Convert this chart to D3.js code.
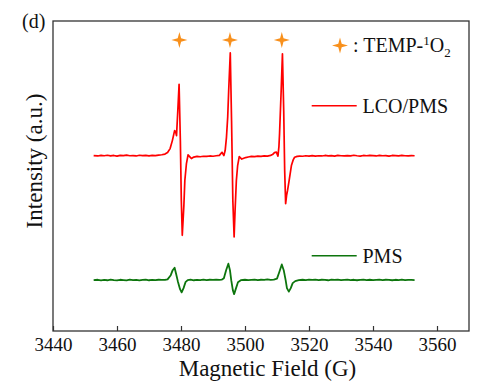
<!DOCTYPE html>
<html>
<head>
<meta charset="utf-8">
<script src="https://cdn.jsdelivr.net/npm/d3@7"></script>
<style>
  html, body { margin: 0; padding: 0; background: #fff; }
  svg { display: block; }
  svg text { font-family: "Liberation Serif", "Times New Roman", serif; }
</style>
</head>
<body>
<svg id="chart" width="487" height="390"></svg>
<script>
// ---- data ----
const xTicks = [3440, 3460, 3480, 3500, 3520, 3540, 3560];

const fieldLCO = [
  3452.7, 3454, 3455, 3456, 3457, 3458, 3459, 3460, 3461, 3462, 3463, 3464, 3465, 3466, 3467, 3468,
  3469, 3470, 3471, 3472, 3473, 3474, 3475, 3475.8, 3476.6, 3477.3, 3478.0, 3478.3, 3478.6, 3479.0,
  3479.4, 3479.8, 3480.1, 3480.4, 3480.9, 3481.2, 3481.7, 3482.2, 3482.7, 3483.25, 3484, 3485, 3486,
  3487, 3488, 3489, 3490, 3491, 3492, 3492.8, 3493.4, 3493.8, 3494.2, 3494.6, 3494.9, 3495.4, 3495.8,
  3496.2, 3496.6, 3496.9, 3497.3, 3497.7, 3498.2, 3499.0, 3500.2, 3501, 3502, 3503, 3504, 3505, 3506,
  3507, 3508, 3508.6, 3509.2, 3509.8, 3510.3, 3510.6, 3510.8, 3511.3, 3511.7, 3512.1, 3512.4, 3512.7,
  3513.0, 3513.3, 3513.8, 3514.5, 3515.1, 3515.5, 3516.3, 3517.1, 3518, 3519, 3520, 3521, 3522, 3523,
  3524, 3525, 3526, 3527, 3528, 3529, 3530, 3531, 3532, 3533, 3534, 3535, 3536, 3537, 3538, 3539,
  3540, 3541, 3542, 3543, 3544, 3545, 3546, 3547, 3548, 3549, 3550, 3551, 3552, 3553
];
const intensityLCO = [
  176, 175.6, 176.2, 175.8, 176.3, 175.7, 176.1, 175.5, 176.2, 175.9, 176.4, 175.8, 176, 175.6, 176.3, 175.9,
  176.2, 175.7, 176.1, 175.9, 176.4, 176.8, 177.5, 179, 183, 191, 201, 200, 196, 221,
  247.5, 191, 131, 96, 126, 151, 168, 176.7, 175, 173, 174.5, 175.2, 174.8,
  175.3, 175.1, 175.6, 175.3, 175.8, 176.2, 179.3, 176, 181, 194, 215, 241, 279, 211,
  131, 94.3, 121, 151, 166, 175, 172.5, 174, 174.6, 175.2, 175, 175.5, 175.2, 175.7,
  175.4, 176.2, 177, 179, 179.5, 175.5, 185, 198, 241, 278, 221, 161, 127.7,
  136, 141, 151, 166, 172, 174.3, 175.2, 175.5, 175.3, 175.8, 175.5, 175.9, 175.4, 175.8,
  175.6, 176.1, 175.7, 175.9, 175.5, 176.2, 175.8, 175.6, 176, 175.7, 176.3, 175.8, 175.5, 176.1, 175.8, 176.2,
  175.9, 175.6, 176.2, 175.8, 176, 175.5, 176.1, 175.9, 175.7, 176.2, 175.8, 175.6, 176, 175.8
];

const fieldPMS = [
  3452.7, 3454, 3455, 3456, 3457, 3458, 3459, 3460, 3461, 3462, 3463, 3464, 3465, 3466, 3467, 3468,
  3469, 3470, 3471, 3472, 3473, 3474, 3475, 3475.8, 3476.8, 3477.4, 3478.0, 3478.5, 3479.0, 3479.7,
  3480.2, 3480.8, 3481.4, 3482.1, 3483, 3484, 3485, 3486, 3487, 3488, 3489, 3490, 3491, 3492, 3492.7,
  3493.4, 3494.1, 3494.8, 3495.3, 3495.7, 3496.2, 3496.6, 3497.1, 3497.8, 3498.7, 3500, 3501, 3502,
  3503, 3504, 3505, 3506, 3507, 3508, 3509, 3510.0, 3510.7, 3511.5, 3512.1, 3512.7, 3513.1, 3513.7,
  3514.3, 3514.9, 3515.7, 3516.8, 3518, 3519, 3520, 3521, 3522, 3523, 3524, 3525, 3526, 3527, 3528,
  3529, 3530, 3531, 3532, 3533, 3534, 3535, 3536, 3537, 3538, 3539, 3540, 3541, 3542, 3543, 3544,
  3545, 3546, 3547, 3548, 3549, 3550, 3551, 3552, 3553
];
const intensityPMS = [
  51, 51.4, 50.8, 51.3, 50.9, 51.5, 51, 50.7, 51.4, 51.1, 50.8, 51.5, 51, 51.3, 50.8, 51.2,
  51.5, 50.9, 51.3, 51, 51.4, 51.2, 51.3, 51.8, 56, 61, 63.5, 57, 50, 42,
  38.7, 43, 49, 51, 51.5, 50.9, 51.3, 51.1, 51.6, 51, 51.4, 51.2, 51.6, 51.3, 51.5,
  53, 61, 67.5, 61, 51, 41, 37, 42, 49, 51, 51.4, 51, 51.3,
  51.6, 51.1, 51.4, 51.2, 51.7, 51.3, 51.5, 52.5, 59, 66.8, 61, 51, 43, 39.5,
  43, 48, 50, 51, 51.4, 51.1, 51.6, 51.2, 51.5, 51, 51.4, 51.3, 50.9, 51.5, 51.2,
  51.6, 51, 51.3, 51.5, 51.1, 51.4, 50.9, 51.3, 51.6, 51.1, 51.4, 51, 51.3, 51.5, 51.1, 51.4,
  51.2, 50.9, 51.4, 51.1, 51.5, 51, 51.3, 51.2, 51.1
];

const starFields = [3479.5, 3495.3, 3511.5];
const starLevel = 292;

const seriesNames = ["LCO/PMS", "PMS"];
const seriesColors = ["#ff0000", "#0d750d"];
const starColor = "#f8901c";

// ---- layout ----
const FONT = "'Liberation Serif', 'Times New Roman', serif";
const svg = d3.select("#chart");
const W = 487, H = 390;
const margin = { left: 53, right: 18, top: 21, bottom: 59 };
const plotW = W - margin.left - margin.right;
const plotH = H - margin.top - margin.bottom;

const x = d3.scaleLinear().domain([3440, 3570]).range([margin.left, margin.left + plotW]);
const y = d3.scaleLinear().domain([0, 311]).range([margin.top + plotH, margin.top]);

const line = d3.line().x(d => x(d[0])).y(d => y(d[1])).curve(d3.curveLinear);

const lco = fieldLCO.map((f, i) => [f, intensityLCO[i]]);
const pms = fieldPMS.map((f, i) => [f, intensityPMS[i]]);

svg.append("path").datum(pms)
  .attr("d", line).attr("fill", "none")
  .attr("stroke", seriesColors[1]).attr("stroke-width", 1.8).attr("stroke-linejoin", "round");
svg.append("path").datum(lco)
  .attr("d", line).attr("fill", "none")
  .attr("stroke", seriesColors[0]).attr("stroke-width", 1.7).attr("stroke-linejoin", "round");

// 4-point star marker
function star4(R, r) {
  const pts = [];
  for (let k = 0; k < 8; k++) {
    const a = -Math.PI / 2 + k * Math.PI / 4;
    const rad = k % 2 === 0 ? R : r;
    pts.push([rad * Math.cos(a), rad * Math.sin(a)]);
  }
  return "M" + pts.map(p => p[0].toFixed(2) + "," + p[1].toFixed(2)).join("L") + "Z";
}
svg.selectAll("path.star").data(starFields).enter().append("path")
  .attr("class", "star")
  .attr("d", star4(8, 2.4))
  .attr("transform", d => `translate(${x(d)},${y(starLevel)})`)
  .attr("fill", starColor);

// axis
const xAxis = d3.axisBottom(x).tickValues(xTicks).tickFormat(d3.format("d"))
  .tickSizeInner(-5).tickSizeOuter(0);
const gx = svg.append("g").attr("transform", `translate(0,${margin.top + plotH})`).call(xAxis);
gx.attr("font-family", null).attr("font-size", null);
gx.select(".domain").remove();
gx.selectAll(".tick line").attr("stroke", "#333").attr("stroke-width", 1.2);
gx.selectAll(".tick text").attr("y", 20).attr("dy", 0)
  .style("font-family", FONT).attr("font-size", 19).attr("fill", "#111");

// frame
svg.append("rect")
  .attr("x", margin.left).attr("y", margin.top)
  .attr("width", plotW).attr("height", plotH)
  .attr("fill", "none").attr("stroke", "#333").attr("stroke-width", 1.3);

// titles
svg.append("text").attr("x", 267.5).attr("y", 376).attr("text-anchor", "middle")
  .style("font-family", FONT).attr("font-size", 23).attr("fill", "#111").text("Magnetic Field (G)");
svg.append("text").attr("transform", "translate(42,161) rotate(-90)").attr("text-anchor", "middle")
  .style("font-family", FONT).attr("font-size", 23).attr("fill", "#111").text("Intensity (a.u.)");
svg.append("text").attr("x", 22).attr("y", 28).style("font-family", FONT)
  .attr("font-size", 20).attr("fill", "#111").text("(d)");

// legend: star
svg.append("path").attr("d", star4(8, 2.4)).attr("transform", "translate(340,45.5)").attr("fill", starColor);
const t = svg.append("text").attr("x", 353).attr("y", 51.7).style("font-family", FONT)
  .attr("font-size", 20).attr("fill", "#111");
t.append("tspan").text(": TEMP-");
t.append("tspan").attr("font-size", 13).attr("dy", -7).text("1");
t.append("tspan").attr("dy", 7).text("O");
t.append("tspan").attr("font-size", 13).attr("dy", 5).text("2");

// legend: series
const legendRows = [{ y: 105.7, ty: 113.3 }, { y: 255.7, ty: 263.3 }];
seriesNames.forEach((name, i) => {
  svg.append("line").attr("x1", 311.7).attr("x2", 356.7)
    .attr("y1", legendRows[i].y).attr("y2", legendRows[i].y)
    .attr("stroke", seriesColors[i]).attr("stroke-width", 1.6);
  svg.append("text").attr("x", 362.5).attr("y", legendRows[i].ty)
    .style("font-family", FONT).attr("font-size", 20).attr("fill", "#111").text(name);
});
</script>
</body>
</html>
